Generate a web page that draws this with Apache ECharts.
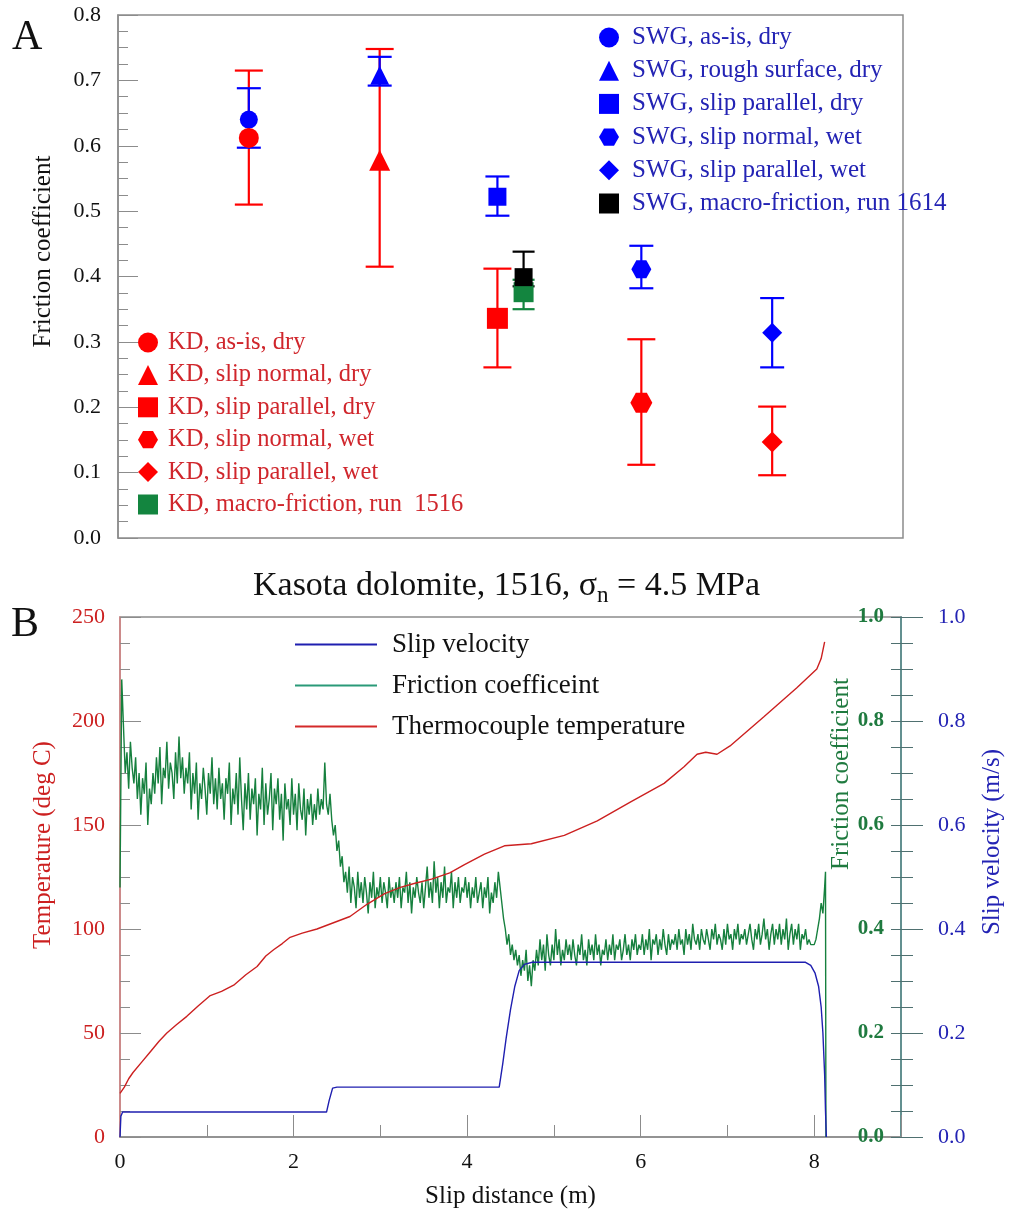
<!DOCTYPE html>
<html>
<head>
<meta charset="utf-8">
<script src="https://cdn.jsdelivr.net/npm/echarts@6/dist/echarts.min.js"></script>
<style>
  html, body { margin: 0; padding: 0; background: #fff; }
  #main { width: 1013px; height: 1216px; }
</style>
</head>
<body>
<div id="main"></div>
<script>
// ---- panel A : friction coefficients ----
var kdNames = ['KD, as-is, dry', 'KD, slip normal, dry', 'KD, slip parallel, dry', 'KD, slip normal, wet', 'KD, slip parallel, wet', 'KD, macro-friction, run  1516'];
var kdX = [1, 2, 2.9, 4, 5, 3.1];
var kdMean = [0.612, 0.578, 0.336, 0.207, 0.147, 0.376];
var kdLow = [0.51, 0.415, 0.261, 0.112, 0.096, 0.35];
var kdHigh = [0.715, 0.748, 0.412, 0.304, 0.201, 0.395];

var swgNames = ['SWG, as-is, dry', 'SWG, rough surface, dry', 'SWG, slip parallel, dry', 'SWG, slip normal, wet', 'SWG, slip parallel, wet', 'SWG, macro-friction, run 1614'];
var swgX = [1, 2, 2.9, 4, 5, 3.1];
var swgMean = [0.64, 0.708, 0.522, 0.411, 0.314, 0.399];
var swgLow = [0.597, 0.692, 0.493, 0.382, 0.261, 0.385];
var swgHigh = [0.688, 0.736, 0.553, 0.447, 0.367, 0.438];

// ---- panel B : run 1516 ----
var tempData = [[0,21],[0.05,24],[0.1,28],[0.15,31],[0.25,36],[0.35,41],[0.45,46],[0.54,50],[0.65,54],[0.77,58],
  [0.9,63],[1.04,68],[1.17,70],[1.31,73],[1.45,78],[1.58,82],[1.68,87],[1.77,90],[1.87,93],[1.96,96],
  [2.1,98],[2.27,100],[2.46,103],[2.65,106],[2.85,112],[3.05,117],[3.23,120],[3.4,122],[3.59,124],[3.8,127],
  [3.97,131],[4.2,136],[4.43,140],[4.74,141],[5.12,145],[5.5,152],[5.88,161],[6.27,170],[6.5,178],[6.65,184],
  [6.75,185],[6.88,184],[7.03,188],[7.42,202],[7.8,216],[8.03,225],[8.08,230],[8.12,238]];

var velData = [[0,0],[0.01,0.04],[0.03,0.048],[2.38,0.048],[2.41,0.07],[2.45,0.094],[2.5,0.096],[4.37,0.096],
  [4.41,0.14],[4.45,0.19],[4.5,0.245],[4.55,0.29],[4.6,0.32],[4.66,0.332],[4.75,0.336],[7.9,0.336],
  [7.96,0.33],[8.01,0.315],[8.05,0.29],[8.08,0.25],[8.1,0.2],[8.12,0.12],[8.13,0.05],[8.14,0]];

// friction read every 0.02 m from 0 to 8.12 m (one row = 0.4 m)
var fricStep = 0.02;
var fricValues = [
  0.48,0.88,0.79,0.70,0.74,0.67,0.76,0.71,0.68,0.73,0.65,0.70,0.62,0.69,0.66,0.72,0.60,0.67,0.64,0.70,
  0.66,0.73,0.68,0.75,0.64,0.71,0.69,0.76,0.67,0.72,0.70,0.65,0.74,0.68,0.77,0.69,0.73,0.66,0.71,0.68,
  0.74,0.63,0.70,0.66,0.72,0.61,0.68,0.65,0.71,0.67,0.62,0.70,0.66,0.73,0.64,0.69,0.63,0.71,0.65,0.68,
  0.61,0.69,0.66,0.72,0.60,0.67,0.64,0.70,0.62,0.73,0.65,0.59,0.68,0.63,0.70,0.61,0.67,0.64,0.69,0.58,
  0.66,0.63,0.71,0.60,0.68,0.62,0.65,0.70,0.59,0.67,0.64,0.69,0.61,0.66,0.57,0.68,0.63,0.65,0.60,0.69,
  0.62,0.66,0.59,0.68,0.63,0.61,0.67,0.58,0.65,0.62,0.66,0.60,0.64,0.61,0.67,0.62,0.65,0.63,0.72,0.64,
  0.62,0.66,0.61,0.58,0.60,0.55,0.57,0.52,0.54,0.49,0.51,0.47,0.52,0.45,0.50,0.48,0.44,0.51,0.46,0.49,
  0.45,0.50,0.47,0.43,0.49,0.46,0.51,0.44,0.48,0.46,0.50,0.45,0.49,0.47,0.44,0.50,0.46,0.48,0.45,0.49,
  0.46,0.50,0.44,0.48,0.47,0.51,0.45,0.49,0.43,0.48,0.46,0.50,0.47,0.45,0.49,0.44,0.48,0.52,0.46,0.49,
  0.45,0.53,0.47,0.50,0.44,0.49,0.46,0.52,0.45,0.48,0.47,0.51,0.44,0.49,0.46,0.50,0.45,0.48,0.47,0.50,
  0.46,0.49,0.44,0.48,0.46,0.50,0.45,0.47,0.49,0.44,0.48,0.46,0.50,0.43,0.47,0.45,0.49,0.46,0.51,0.48,
  0.45,0.42,0.40,0.37,0.39,0.35,0.37,0.34,0.36,0.33,0.35,0.31,0.34,0.32,0.36,0.30,0.33,0.29,0.34,0.32,
  0.36,0.33,0.38,0.34,0.37,0.32,0.39,0.35,0.33,0.37,0.34,0.40,0.35,0.38,0.33,0.36,0.34,0.38,0.35,0.37,
  0.34,0.38,0.35,0.33,0.37,0.35,0.39,0.34,0.36,0.33,0.38,0.35,0.37,0.34,0.39,0.35,0.37,0.33,0.36,0.35,
  0.38,0.34,0.37,0.35,0.39,0.34,0.37,0.36,0.38,0.34,0.36,0.39,0.35,0.37,0.34,0.38,0.36,0.39,0.35,0.37,
  0.36,0.39,0.35,0.38,0.36,0.40,0.34,0.38,0.37,0.39,0.35,0.38,0.36,0.40,0.37,0.35,0.39,0.36,0.38,0.37,
  0.39,0.36,0.40,0.37,0.38,0.35,0.40,0.37,0.39,0.36,0.41,0.38,0.37,0.39,0.36,0.40,0.38,0.37,0.40,0.38,
  0.36,0.40,0.38,0.41,0.37,0.39,0.38,0.36,0.40,0.37,0.41,0.38,0.39,0.36,0.40,0.38,0.41,0.37,0.39,0.38,
  0.40,0.37,0.39,0.41,0.38,0.36,0.40,0.38,0.41,0.37,0.39,0.42,0.38,0.40,0.36,0.39,0.41,0.37,0.40,0.38,
  0.41,0.37,0.40,0.38,0.42,0.36,0.39,0.41,0.37,0.40,0.38,0.41,0.36,0.39,0.38,0.40,0.37,0.38,0.37,0.37,
  0.37,0.38,0.40,0.42,0.45,0.43,0.48
];
var fricTail = [[8.13, 0.51], [8.135, 0]];

var SERIF = 'Liberation Serif';
var hexagon = 'path://M-0.5,-0.866L0.5,-0.866L1,0L0.5,0.866L-0.5,0.866L-1,0Z';
var kdSymbols = ['circle', 'triangle', 'rect', hexagon, 'diamond', 'rect'];
var swgSymbols = ['circle', 'triangle', 'rect', hexagon, 'diamond', 'rect'];
var kdSizes = [20, 21, 21, [22, 20], 21, 20];
var swgSizes = [18, 19, 18, [20, 18], 20, 18];
var kdColors = ['#ff0000', '#ff0000', '#ff0000', '#ff0000', '#ff0000', '#13853f'];
var swgColors = ['#0000ff', '#0000ff', '#0000ff', '#0000ff', '#0000ff', '#000000'];

function errorBars(xs, lo, hi, colors, cap, z) {
  var data = xs.map(function (x, i) { return [x, lo[i], hi[i]]; });
  return {
    type: 'custom', xAxisIndex: 0, yAxisIndex: 0, z: z, silent: true,
    encode: { x: 0, y: [1, 2] },
    data: data,
    renderItem: function (params, api) {
      var x = api.value(0);
      var a = api.coord([x, api.value(1)]);
      var b = api.coord([x, api.value(2)]);
      var st = { stroke: colors[params.dataIndex], lineWidth: 2.2 };
      return {
        type: 'group',
        children: [
          { type: 'line', shape: { x1: a[0], y1: a[1], x2: b[0], y2: b[1] }, style: st },
          { type: 'line', shape: { x1: a[0] - cap / 2, y1: a[1], x2: a[0] + cap / 2, y2: a[1] }, style: st },
          { type: 'line', shape: { x1: b[0] - cap / 2, y1: b[1], x2: b[0] + cap / 2, y2: b[1] }, style: st }
        ]
      };
    }
  };
}

var series = [];
series.push(errorBars(kdX.slice(0, 5), kdLow, kdHigh, kdColors, 28, 1));
series.push(errorBars(swgX.slice(0, 5), swgLow, swgHigh, swgColors, 24, 2));
series.push(errorBars([kdX[5]], [kdLow[5]], [kdHigh[5]], [kdColors[5]], 22, 2));
series.push(errorBars([swgX[5]], [swgLow[5]], [swgHigh[5]], [swgColors[5]], 22, 2));
swgNames.forEach(function (n, i) {
  series.push({
    name: n, type: 'scatter', xAxisIndex: 0, yAxisIndex: 0, z: i === 5 ? 5 : 3,
    symbol: swgSymbols[i], symbolSize: swgSizes[i],
    itemStyle: { color: swgColors[i], opacity: 1 },
    data: [[swgX[i], swgMean[i]]]
  });
});
kdNames.forEach(function (n, i) {
  series.push({
    name: n, type: 'scatter', xAxisIndex: 0, yAxisIndex: 0, z: 4,
    symbol: kdSymbols[i], symbolSize: kdSizes[i],
    itemStyle: { color: kdColors[i], opacity: 1 },
    data: [[kdX[i], kdMean[i]]]
  });
});

var fricData = fricValues.map(function (v, i) { return [+(i * fricStep).toFixed(2), v]; }).concat(fricTail);

series.push({
  name: 'Slip velocity', type: 'line', xAxisIndex: 1, yAxisIndex: 3, showSymbol: false, z: 3,
  lineStyle: { color: '#1f1fb0', width: 1.4 }, itemStyle: { color: '#1f1fb0' }, data: velData
});
series.push({
  name: 'Friction coefficeint', type: 'line', xAxisIndex: 1, yAxisIndex: 2, showSymbol: false, z: 2,
  lineStyle: { color: '#16803e', width: 1.4 }, itemStyle: { color: '#2a9a78' }, data: fricData
});
series.push({
  name: 'Thermocouple temperature', type: 'line', xAxisIndex: 1, yAxisIndex: 1, showSymbol: false, z: 4,
  lineStyle: { color: '#cc2020', width: 1.4 }, itemStyle: { color: '#d42a2a' }, data: tempData
});

var chart = echarts.init(document.getElementById('main'));
var option = {
  animation: false,
  backgroundColor: '#fff',
  textStyle: { fontFamily: SERIF },
  title: {
    left: 'center', top: 560,
    text: '{a|Kasota dolomite, 1516, σ}{s|n}{a| = 4.5 MPa}',
    textStyle: {
      rich: {
        a: { fontFamily: SERIF, fontSize: 34, fontWeight: 'normal', color: '#111', lineHeight: 42 },
        s: { fontFamily: SERIF, fontSize: 23, fontWeight: 'normal', color: '#111', lineHeight: 22, verticalAlign: 'bottom' }
      }
    }
  },
  graphic: [
    { type: 'text', left: 12, top: 17, style: { text: 'A', fontFamily: SERIF, fontSize: 42, fill: '#111' } },
    { type: 'text', left: 11, top: 604, style: { text: 'B', fontFamily: SERIF, fontSize: 42, fill: '#111' } },
    { type: 'text', x: 841, y: 774, rotation: Math.PI / 2, style: { text: 'Friction coefficient', fontFamily: SERIF, fontSize: 25, fill: '#1f7a3f', align: 'center', verticalAlign: 'middle' } }
  ],
  legend: [
    {
      data: kdNames, orient: 'vertical', left: 138, top: 330, padding: 0,
      itemWidth: 20, itemHeight: 20, itemGap: 7.4,
      textStyle: { fontFamily: SERIF, fontSize: 24.5, color: '#d0262c', lineHeight: 20, padding: [0, 0, 0, 5] }
    },
    {
      data: swgNames, orient: 'vertical', left: 599, top: 25, padding: 0,
      itemWidth: 20, itemHeight: 20, itemGap: 8.2,
      textStyle: { fontFamily: SERIF, fontSize: 25, color: '#2323b4', lineHeight: 20, padding: [0, 0, 0, 8] }
    },
    {
      data: ['Slip velocity', 'Friction coefficeint', 'Thermocouple temperature'],
      orient: 'vertical', left: 295, top: 631, padding: 0,
      itemWidth: 82, itemHeight: 2, itemGap: 14, icon: 'rect',
      textStyle: { fontFamily: SERIF, fontSize: 27, color: '#111', lineHeight: 27, padding: [0, 0, 0, 10] }
    }
  ],
  grid: [
    { left: 118, top: 15, width: 785, height: 523, show: true, borderColor: '#8c8c8c', borderWidth: 1.5 },
    { left: 120, top: 617, width: 789, height: 520, show: true, borderColor: '#8c8c8c', borderWidth: 1.5 }
  ],
  xAxis: [
    {
      gridIndex: 0, type: 'value', min: 0, max: 6,
      axisLine: { show: false }, axisTick: { show: false }, axisLabel: { show: false }, splitLine: { show: false }
    },
    {
      gridIndex: 1, type: 'value', min: 0, max: 9, interval: 2,
      name: 'Slip distance (m)', nameLocation: 'middle', nameGap: 47,
      nameTextStyle: { fontFamily: SERIF, fontSize: 25, color: '#111' },
      axisLine: { show: true, lineStyle: { color: '#8c8c8c', width: 1.5 } },
      axisTick: { show: true, inside: true, length: 22, lineStyle: { color: '#8c8c8c' } },
      minorTick: { show: true, splitNumber: 2, length: 12, lineStyle: { color: '#8c8c8c' } },
      axisLabel: { fontFamily: SERIF, fontSize: 22, color: '#111', margin: 14, showMaxLabel: false },
      splitLine: { show: false }
    }
  ],
  yAxis: [
    {
      gridIndex: 0, type: 'value', min: 0, max: 0.8, interval: 0.1,
      name: 'Friction coefficient', nameLocation: 'middle', nameGap: 62,
      nameTextStyle: { fontFamily: SERIF, fontSize: 25, color: '#111', padding: [0, 0, 0, 50] },
      axisLine: { show: true, lineStyle: { color: '#8c8c8c', width: 1.5 } },
      axisTick: { show: true, inside: true, length: 20, lineStyle: { color: '#8c8c8c' } },
      minorTick: { show: true, splitNumber: 4, length: 10, lineStyle: { color: '#8c8c8c' } },
      axisLabel: { fontFamily: SERIF, fontSize: 22, color: '#111', margin: 17, formatter: function (v) { return v.toFixed(1); } },
      splitLine: { show: false }
    },
    {
      gridIndex: 1, type: 'value', min: 0, max: 250, interval: 50, position: 'left',
      name: 'Temperature (deg C)', nameLocation: 'middle', nameGap: 64,
      nameTextStyle: { fontFamily: SERIF, fontSize: 25, color: '#cc2020', padding: [0, 0, 0, 64] },
      axisLine: { show: true, lineStyle: { color: '#d98080', width: 1.5 } },
      axisTick: { show: true, inside: true, length: 21, lineStyle: { color: '#8c8c8c' } },
      minorTick: { show: true, splitNumber: 4, length: 10, lineStyle: { color: '#8c8c8c' } },
      axisLabel: { fontFamily: SERIF, fontSize: 22, color: '#cc2020', margin: 15 },
      splitLine: { show: false }
    },
    {
      gridIndex: 1, type: 'value', min: 0, max: 1, interval: 0.2, position: 'right',
      axisLine: { show: true, lineStyle: { color: '#5f8f8f', width: 1.5 } },
      axisTick: { show: true, inside: true, length: 10, lineStyle: { color: '#4f7070' } },
      minorTick: { show: true, splitNumber: 4, length: 10, lineStyle: { color: '#4f7070' } },
      axisLabel: { inside: true, fontFamily: SERIF, fontSize: 21, fontWeight: 'bold', color: '#1f7a3f', margin: 17, formatter: function (v) { return v.toFixed(1); } },
      splitLine: { show: false }
    },
    {
      gridIndex: 1, type: 'value', min: 0, max: 1, interval: 0.2, position: 'right',
      name: 'Slip velocity (m/s)', nameLocation: 'middle', nameGap: 79,
      nameTextStyle: { fontFamily: SERIF, fontSize: 25, color: '#2323b4', padding: [0, 0, 0, 70] },
      axisLine: { show: true, lineStyle: { color: '#5f8f8f', width: 1.5 } },
      axisTick: { show: true, length: 22, lineStyle: { color: '#4f7070' } },
      minorTick: { show: true, splitNumber: 4, length: 12, lineStyle: { color: '#4f7070' } },
      axisLabel: { fontFamily: SERIF, fontSize: 22, color: '#2323b4', margin: 37, formatter: function (v) { return v.toFixed(1); } },
      splitLine: { show: false }
    }
  ],
  series: series
};
chart.setOption(option);
</script>
</body>
</html>
